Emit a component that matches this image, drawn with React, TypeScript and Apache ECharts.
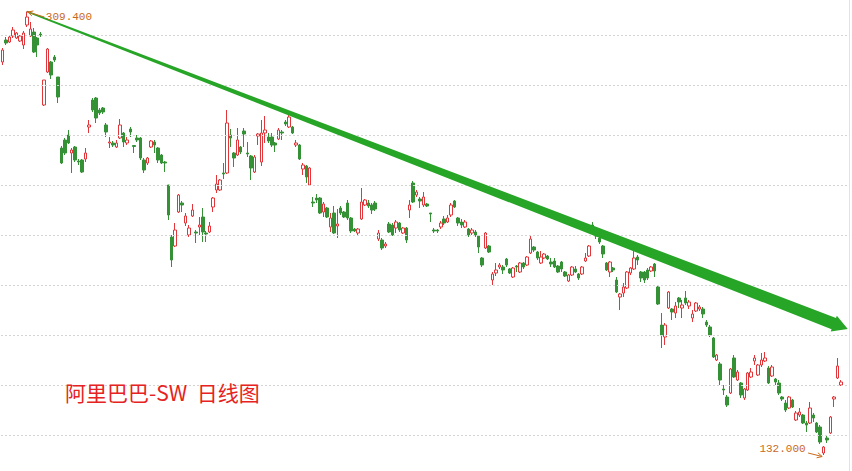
import React, { useEffect, useRef } from "react";
import * as echarts from "echarts";

const TITLE = "阿里巴巴-SW  日线图";
const GRID_PRICES = [140, 160, 180, 200, 220, 240, 260, 280, 300];
const PRICE_MIN = 125.6;
const PRICE_MAX = 314;
const EXTRA_SLOTS = 2; // empty days kept at the right edge
const TREND_END = [245, 182.4]; // tip of the green trend arrow (day index, price)

// daily candles: [open, close, low, high]
const OHLC = [
  [289.2, 294, 288, 294.8], [298, 296.8, 296, 299.2], [297.2, 299.2, 296.8, 300], [299.6, 302, 298.8, 303.2],
  [298.8, 300.8, 298.4, 301.2], [297.6, 299.6, 297.2, 300], [296, 300.8, 294.4, 301.6], [304, 307.2, 303.2, 309.4],
  [299.6, 302.4, 299.2, 305.2], [301.2, 293.2, 292.8, 302.8], [298.8, 296, 291.2, 299.2], [300.4, 300, 299.2, 301.2],
  [272, 282, 271.6, 282], [285.2, 294.4, 284.8, 294.8], [289.2, 284, 282.4, 289.6], [291.2, 290, 289.2, 292],
  [283.2, 275.2, 272.8, 283.2], [254.8, 248.8, 248.4, 255.6], [258, 252.8, 252, 258.8], [260, 256.8, 256.4, 262],
  [252.8, 254, 244.8, 254.8], [255.2, 250, 249.2, 255.6], [249.6, 249.2, 248, 250.4], [250, 245.2, 244.8, 250.4],
  [250.4, 252.8, 249.2, 254.8], [263.2, 264, 260.8, 266], [274, 270, 269.2, 274.8], [274.8, 266.8, 264.8, 275.2],
  [270, 268.8, 268, 270.8], [270.8, 269.2, 268.4, 271.2], [264, 261.2, 259.2, 264.8], [256.8, 257.2, 254.8, 259.2],
  [256.8, 256, 255.2, 257.6], [255.2, 256.8, 254.8, 258], [258.8, 264, 258.4, 266.4], [260.8, 257.2, 255.2, 261.2],
  [256.8, 258, 256, 259.2], [262.4, 261.2, 259.2, 263.2], [255.8, 255.4, 252.8, 256], [258.8, 258, 257.2, 260],
  [258.8, 250.8, 250, 259.2], [250, 246, 244.8, 250.8], [248.8, 250.8, 248, 251.2], [255.2, 257.6, 254.8, 258],
  [257.2, 256, 252.8, 258], [254.8, 250, 248.8, 255.2], [252, 248.8, 248.4, 252.4], [249.2, 248.8, 245.2, 249.6],
  [240, 228, 226, 240], [219.2, 210, 207.2, 220], [215.6, 222, 215.2, 224.8], [229.2, 236, 228.8, 236.4],
  [232.8, 232, 229.2, 233.6], [224.8, 227.6, 223.6, 228.8], [220, 222.8, 219.2, 224], [227.6, 230, 227.2, 232.4],
  [221.2, 220.8, 216.8, 222], [223.2, 224, 220, 227.2], [227.2, 221.2, 217.2, 230.8], [220.8, 220.4, 217.2, 221.6],
  [221.2, 223.6, 220.8, 225.2], [231.2, 234.8, 229.2, 235.2], [238, 240.4, 236.8, 244], [238, 242, 237.6, 242.4],
  [244.8, 244.4, 242.4, 248.8], [244.8, 264.8, 244.4, 270], [260, 258.8, 255.2, 262.4], [252.8, 250.8, 247.2, 253.2],
  [252, 258, 251.6, 262.8], [255.2, 253.2, 252.4, 255.6], [261.6, 260.4, 255.2, 262.8], [252.8, 252.4, 251.2, 257.2],
  [251.6, 246.8, 242, 252], [245.2, 251.2, 244.8, 252], [259.6, 260.4, 256, 260.8], [249.2, 260.8, 247.6, 266],
  [260.8, 262, 256.8, 267.6], [259.2, 257.6, 256.8, 260.8], [259.2, 256, 255.2, 260.8], [256.8, 256, 253.2, 257.2],
  [258.4, 262, 258, 262.8], [261.2, 260.8, 258, 262], [265.2, 264.4, 263.6, 266], [263.2, 267.2, 262.8, 268],
  [263.2, 260.8, 260.4, 263.6], [256, 256.8, 255.2, 258], [256, 250.4, 250, 256.4], [246.4, 248, 244, 248.8],
  [247.6, 243.2, 240.8, 248], [240, 246.8, 239.6, 247.2], [233.2, 232.8, 231.2, 235.2], [234.8, 234, 232.8, 236.4],
  [234.8, 228.8, 228.4, 235.2], [229.2, 232.4, 227.2, 233.2], [230.8, 227.2, 226.8, 231.2], [223.2, 226.8, 221.2, 228.8],
  [228.8, 220.8, 220.4, 231.6], [223.6, 224.4, 218.8, 230.4], [230.8, 228.8, 228, 231.6], [229.2, 227.2, 226.8, 229.6],
  [232.8, 226.8, 226, 234], [226.8, 221.6, 220.8, 227.2], [222.4, 221.6, 221.2, 222.8], [220.8, 222.4, 220, 222.8],
  [226.4, 233.2, 226, 238.8], [232, 234, 231.6, 234.4], [232.8, 231.6, 230.8, 234], [232, 230, 228.4, 232.8],
  [232.8, 230.4, 229.6, 233.6], [218.4, 220.8, 217.6, 222], [218, 214.8, 214, 218.8], [215.6, 216.4, 214.8, 217.2],
  [224.4, 221.2, 220.8, 225.2], [224, 220, 219.6, 224.8], [222.8, 225.2, 220.8, 226], [224.8, 222, 221.2, 225.2],
  [220.8, 222.8, 220.4, 223.2], [222.8, 218, 216.8, 223.2], [230, 232, 226.8, 234], [240.8, 233.2, 232.8, 241.6],
  [236, 237.2, 235.2, 238], [234.4, 233.6, 230.8, 235.2], [232, 235.2, 231.2, 237.2], [232.4, 231.6, 231.2, 232.8],
  [228.8, 228.4, 225.2, 228.8], [222, 221.6, 220.8, 222.8], [222, 221.6, 220.8, 222.4], [223.2, 224.8, 222.4, 225.6],
  [226.4, 224.8, 224, 227.6], [225.2, 226.8, 224.8, 228], [228, 232, 227.2, 232.8], [233.6, 231.2, 230.8, 234],
  [226.8, 224.8, 223.6, 227.2], [225.2, 224, 222.8, 226.4], [223.2, 225.2, 222.8, 226], [222.4, 220, 219.2, 222.8],
  [220.8, 222, 220, 222.8], [221.2, 220, 219.2, 222], [219.6, 215.2, 212.8, 220], [210.8, 208, 207.2, 211.2],
  [214.8, 220.8, 214.4, 221.2], [215.6, 213.2, 212.8, 216], [202, 204.4, 200, 205.2], [204.8, 206, 203.6, 208.8],
  [207.2, 208, 206.4, 208.8], [207.2, 206, 204.4, 208], [210.4, 208, 207.2, 210.8], [206.4, 204.8, 204.4, 206.8],
  [203.2, 206.8, 202.8, 207.2], [207.6, 207.2, 205.2, 208], [205.2, 208.8, 204.8, 209.2], [208.8, 207.2, 206.4, 209.2],
  [208, 211.2, 207.6, 211.6], [212.8, 218.4, 212.4, 219.6], [215.2, 214, 213.2, 215.6], [213.2, 210.8, 210, 213.6],
  [208.8, 211.2, 208.4, 213.6], [210.8, 212.4, 210.4, 212.8], [211.6, 210.4, 210, 212], [209.2, 208.4, 207.2, 210.8],
  [209.6, 207.2, 206.8, 210.8], [207.6, 205.2, 204.8, 208], [209.2, 206.4, 205.2, 209.6], [205.2, 203.6, 203.2, 205.6],
  [201.6, 204, 201.2, 204.4], [204, 207.2, 203.6, 207.6], [206.4, 205.2, 204.8, 207.6], [204.4, 202.8, 202, 204.8],
  [204.4, 207.2, 204, 207.6], [209.6, 210.8, 209.2, 212.8], [211.6, 215.6, 211.2, 216], [224, 221.2, 220, 225.2],
  [221.2, 219.6, 218.4, 221.6], [218.8, 217.2, 216.4, 219.6], [215.6, 212.4, 210.8, 216], [208.8, 206, 205.6, 209.2],
  [205.2, 209.2, 203.2, 209.6], [206.8, 206, 205.2, 207.2], [202, 197.2, 196.8, 203.2], [195.2, 196.4, 190, 196.8],
  [196.8, 199.2, 195.2, 200.8], [198.8, 205.2, 198.4, 205.6], [204.8, 206.8, 204, 207.2], [206.4, 210.8, 206, 214.4],
  [211.2, 210, 208, 212], [205.2, 202.8, 201.2, 205.6], [205.2, 202, 200.8, 205.6], [206, 202.8, 202, 206.8],
  [205.6, 207.2, 205.2, 207.6], [208.4, 205.6, 203.2, 208.8], [199.2, 192.4, 192, 199.6], [184, 180, 174.8, 188.8],
  [179.2, 184, 176, 184.8], [190.8, 197.2, 190.4, 197.6], [190.4, 189.2, 186, 190.8], [188.8, 191.6, 186.8, 193.2],
  [194.8, 193.2, 190.8, 195.2], [190.8, 192, 186.8, 194], [194.8, 192.8, 192, 197.6], [191.6, 193.2, 190.4, 194],
  [186.8, 188.4, 185.2, 190], [189.6, 192.8, 189.2, 193.2], [190.4, 191.2, 189.6, 192], [190.4, 188.4, 186.8, 191.2],
  [185.2, 184, 183.2, 186], [183.2, 180, 179.2, 184], [178.8, 171.2, 170.8, 179.2], [170, 172, 169.6, 172.4],
  [168.4, 162, 160, 169.2], [158.4, 158, 156, 160], [155.2, 152, 151.2, 156], [156.8, 166.4, 156.4, 166.8],
  [170.8, 163.2, 162.8, 172], [162, 165.2, 161.6, 166], [160.8, 156, 154.8, 161.2], [154.8, 158.4, 154, 158.8],
  [158, 164.8, 157.6, 165.2], [163.2, 165.2, 162.8, 166.8], [169.6, 170.8, 168, 172], [164, 168, 163.6, 168.4],
  [168, 170, 167.2, 172.8], [169.6, 170.8, 169.2, 173.2], [166.8, 160.8, 160.4, 167.6], [163.6, 167.2, 163.2, 168],
  [162.4, 161.2, 160, 162.8], [160.8, 156.8, 156, 162], [155.2, 154.4, 153.6, 155.6], [152.8, 150, 149.2, 154],
  [150.8, 155.2, 150.4, 155.6], [154, 151.2, 150.8, 154.4], [146, 148.8, 145.6, 149.6], [148, 149.2, 147.2, 150.8],
  [148, 144.8, 144.4, 148.4], [144.8, 144, 141.2, 145.6], [144.8, 150.8, 144.4, 153.2], [148, 146.8, 145.2, 148.8],
  [144.8, 141.2, 140.8, 145.2], [143.2, 137.2, 136.4, 144], [132.8, 135.2, 132, 135.6], [138.8, 138, 136.8, 139.6],
  [140.8, 147.2, 140.4, 147.6], [154.4, 155.2, 151.2, 155.6], [162.8, 167.6, 162.4, 170.8], [160, 161.2, 159.6, 162],
];

const UP = "#e2363a";
const DOWN = "#359135";
const ARROW = "#27a527";
const NOTE = "#c8691c";

const noteArrow = (ax: number, ay: number, tx: number, ty: number) => {
  const len = Math.hypot(tx - ax, ty - ay);
  const ux = (tx - ax) / len;
  const uy = (ty - ay) / len;
  const back = 5;
  const spread = 2.6;
  return [
    { type: "line", z: 100, shape: { x1: ax, y1: ay, x2: tx, y2: ty }, style: { stroke: NOTE, lineWidth: 1 } },
    {
      type: "polyline",
      z: 100,
      shape: {
        points: [
          [tx - ux * back - uy * spread, ty - uy * back + ux * spread],
          [tx, ty],
          [tx - ux * back + uy * spread, ty - uy * back - ux * spread],
        ],
      },
      style: { stroke: NOTE, fill: null, lineWidth: 1 },
    },
  ];
};

const noteText = (text: string, x: number, y: number, align: string) => ({
  type: "text",
  z: 100,
  x,
  y,
  style: {
    text,
    fill: NOTE,
    fontSize: 11,
    fontFamily: "Liberation Mono",
    align,
    textAlign: align,
    verticalAlign: "middle",
    textVerticalAlign: "middle",
  },
});

export default function App() {
  const chartRef = useRef<HTMLDivElement>(null);

  useEffect(() => {
    if (!chartRef.current) return;
    document.body.style.margin = "0";
    const chart = echarts.init(chartRef.current, null, { renderer: "svg" });
    const days = Array.from({ length: OHLC.length + EXTRA_SLOTS }, (_, i) => String(i));

    chart.setOption({
      animation: false,
      backgroundColor: "#ffffff",
      grid: { left: 1, right: 2.5, top: 0, bottom: 0 },
      xAxis: { type: "category", data: days, boundaryGap: true, show: false },
      yAxis: {
        type: "value",
        min: PRICE_MIN,
        max: PRICE_MAX,
        position: "right",
        axisLine: { show: true, lineStyle: { color: "#e2e2e2", width: 1 } },
        axisTick: { show: false },
        axisLabel: { show: false },
        splitLine: { show: false },
      },
      series: [
        {
          type: "candlestick",
          data: OHLC,
          barWidth: 3,
          itemStyle: { color: "#ffffff", color0: DOWN, borderColor: UP, borderColor0: DOWN, borderWidth: 1 },
          markLine: {
            silent: true,
            symbol: ["none", "none"],
            label: { show: false },
            lineStyle: { type: [2, 2], color: "#d4d4d4", width: 1 },
            data: GRID_PRICES.map((v) => ({ yAxis: v })),
          },
        },
      ],
    });

    // locate the highest high and lowest low
    let peakI = 0;
    let troughI = 0;
    OHLC.forEach((d, i) => {
      if (d[3] > OHLC[peakI][3]) peakI = i;
      if (d[2] < OHLC[troughI][2]) troughI = i;
    });
    const toPx = (i: number, v: number) => chart.convertToPixel({ gridIndex: 0 }, [i, v]) as number[];
    const [hx, hy] = toPx(peakI, OHLC[peakI][3]);
    const [lx, ly] = toPx(troughI, OHLC[troughI][2]);
    const [ex, ey] = toPx(TREND_END[0], TREND_END[1]);

    // tapered trend arrow
    const len = Math.hypot(ex - hx, ey - hy);
    const ux = (ex - hx) / len;
    const uy = (ey - hy) / len;
    const nx = -uy;
    const ny = ux;
    const headLen = 15;
    const headHalf = 8.5;
    const tailHalf = 0.8;
    const neckHalf = 6.1;
    const bx = ex - ux * headLen;
    const by = ey - uy * headLen;
    const wedge = [
      [hx + nx * tailHalf, hy + ny * tailHalf],
      [bx + nx * neckHalf, by + ny * neckHalf],
      [bx + nx * headHalf, by + ny * headHalf],
      [ex, ey],
      [bx - nx * headHalf, by - ny * headHalf],
      [bx - nx * neckHalf, by - ny * neckHalf],
      [hx - nx * tailHalf, hy - ny * tailHalf],
    ];

    chart.setOption({
      graphic: [
        { type: "polygon", z: 90, shape: { points: wedge }, style: { fill: ARROW } },
        noteText(OHLC[peakI][3].toFixed(3), hx + 19, hy + 5.5, "left"),
        ...noteArrow(hx + 17.5, hy + 5.5, hx + 1, hy + 0.5),
        noteText(OHLC[troughI][2].toFixed(3), lx - 18, ly - 6.5, "right"),
        ...noteArrow(lx - 15.5, ly - 2, lx - 1.5, ly + 1.5),
        {
          type: "text",
          z: 100,
          x: 65,
          y: 392,
          style: {
            text: TITLE,
            fill: "#e62222",
            fontSize: 21,
            fontFamily: "Noto Sans CJK SC",
            align: "left",
            textAlign: "left",
            verticalAlign: "middle",
            textVerticalAlign: "middle",
          },
        },
      ],
    });

    return () => chart.dispose();
  }, []);

  return <div ref={chartRef} style={{ position: "absolute", left: 0, top: 0, width: 852, height: 471 }} />;
}
